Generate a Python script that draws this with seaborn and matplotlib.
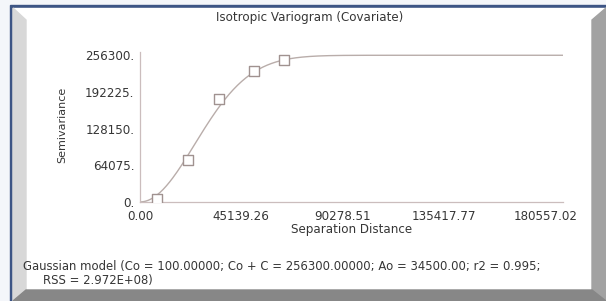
import numpy as np
import pandas as pd
import seaborn as sns
import matplotlib.pyplot as plt
from matplotlib.patches import Polygon, Rectangle
from matplotlib.ticker import FixedLocator, MultipleLocator

lag_dist = [7700, 21300, 35350, 50800, 64200]
semivar = [5200, 73200, 179600, 228900, 247600]

# fitted gaussian model, parameters from the caption
co = 100.0
co_c = 256300.0
ao = 34500.0

x_ticks = [0.00, 45139.26, 90278.51, 135417.77, 180557.02]
x_labels = ["0.00", "45139.26", "90278.51", "135417.77", "180557.02"]
y_ticks = [0, 64075, 128150, 192225, 256300]
y_labels = ["0.", "64075.", "128150.", "192225.", "256300."]

title = "Isotropic Variogram (Covariate)"
caption1 = "Gaussian model (Co = 100.00000; Co + C = 256300.00000; Ao = 34500.00; r2 = 0.995;"
caption2 = "RSS = 2.972E+08)"

sns.set_style("white")
plt.rcParams['font.family'] = ['DejaVu Sans']

txt = "#363636"
axcol = "#cbbdbd"
fs = 8.6

fig = plt.figure(figsize=(6.06, 3.01), dpi=100)
fig.patch.set_facecolor("white")

# window frame drawn in pixel space
bg = fig.add_axes([0, 0, 1, 1], zorder=-5)
bg.set_xlim(0, 606)
bg.set_ylim(301, 0)
bg.axis("off")
bg.add_patch(Rectangle((0, 0), 606, 301, color="#f4f6fa"))
bg.add_patch(Rectangle((10, 5), 596, 296, color="#3d5585"))
bg.add_patch(Polygon([(13, 8), (606, 8), (606, 301), (13, 301)], color="white"))
bg.add_patch(Polygon([(13, 8), (26, 20), (26, 290), (13, 301)], color="#d8d8d8"))
bg.add_patch(Polygon([(606, 8), (606, 301), (592, 290), (592, 20)], color="#a2a2a2"))
bg.add_patch(Polygon([(13, 301), (606, 301), (592, 290), (26, 290)], color="#878787"))

ax = fig.add_axes([140 / 606, 99 / 301, 423 / 606, 150 / 301])
ax.set_facecolor("none")

h = np.linspace(0, 188500, 400)
model = pd.DataFrame({"h": h, "g": co + (co_c - co) * (1 - np.exp(-(h ** 2) / ao ** 2))})
obs = pd.DataFrame({"h": lag_dist, "g": semivar})

sns.lineplot(data=model, x="h", y="g", ax=ax, color="#b9adaa", linewidth=1.0)
sns.scatterplot(data=obs, x="h", y="g", ax=ax, marker="s", s=55,
                facecolor="white", edgecolor="#a09290", linewidth=1.0, zorder=3)

ax.set_xlim(0, 188500)
ax.set_ylim(0, 262000)
ax.xaxis.set_major_locator(FixedLocator(x_ticks))
ax.set_xticklabels(x_labels)
ax.yaxis.set_major_locator(FixedLocator(y_ticks))
ax.set_yticklabels(y_labels)
ax.xaxis.set_minor_locator(MultipleLocator(x_ticks[1] / 3))
ax.yaxis.set_minor_locator(MultipleLocator(y_ticks[1] / 4))

for s in ["top", "right"]:
    ax.spines[s].set_visible(False)
for s in ["left", "bottom"]:
    ax.spines[s].set_color(axcol)
    ax.spines[s].set_linewidth(0.9)

ax.tick_params(which="both", direction="inout", color=axcol, width=0.8)
ax.tick_params(which="major", length=4, labelsize=fs, labelcolor=txt)
ax.tick_params(axis="x", which="major", pad=3.5)
ax.tick_params(axis="y", which="major", pad=2)
ax.tick_params(which="minor", length=3)

ax.set_xlabel("Separation Distance", fontsize=fs, color=txt)
ax.set_ylabel("Semivariance", fontsize=8, color=txt)
ax.xaxis.set_label_coords(0.5, -0.14)
ax.yaxis.set_label_coords(-0.172, 0.513)

fig.text(310 / 606, 1 - 18 / 301, title, ha="center", va="center", fontsize=fs, color=txt)
fig.text(23 / 606, 1 - 266.5 / 301, caption1, ha="left", va="center", fontsize=8.4, color=txt)
fig.text(43 / 606, 1 - 280.5 / 301, caption2, ha="left", va="center", fontsize=8.4, color=txt)

fig.savefig("out.png", dpi=100)
